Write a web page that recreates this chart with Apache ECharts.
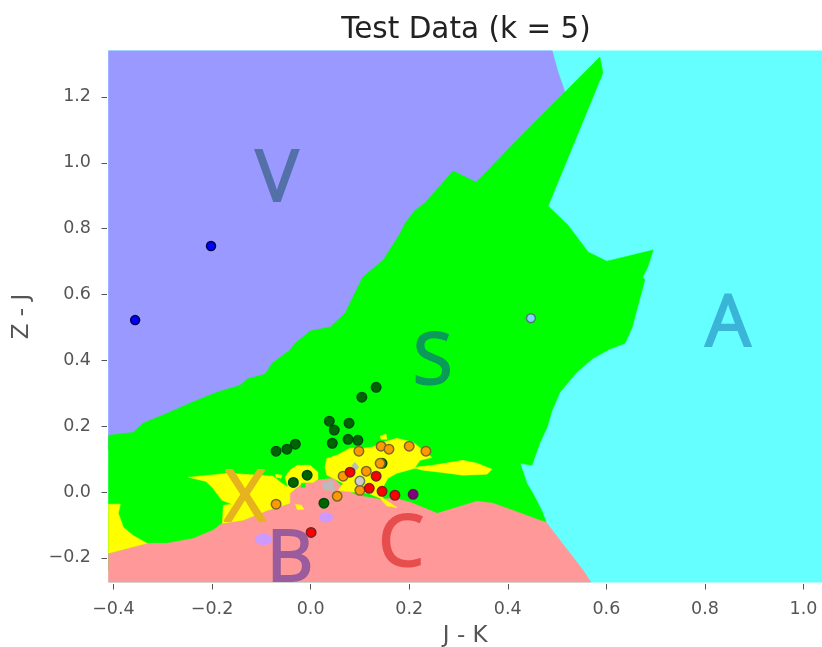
<!DOCTYPE html>
<html><head><meta charset="utf-8">
<style>html,body{margin:0;padding:0;background:#fff}#c{width:822px;height:647px;filter:blur(0.6px)}</style>
<script src="https://cdn.jsdelivr.net/npm/echarts@6/dist/echarts.min.js"></script>
</head><body><div id="c"></div>
<script>
const titleText = 'Test Data (k = 5)';
const xName = 'J - K', yName = 'Z - J';
const xTicks = [-0.4,-0.2,0,0.2,0.4,0.6,0.8,1.0];
const yTicks = [-0.2,0,0.2,0.4,0.6,0.8,1.0,1.2];
const xRange = [-0.41,1.0375], yRange = [-0.275,1.341];

const regionV = [[-0.41,1.341],[0.490,1.341],[0.502,1.276],[0.518,1.206],[0.384,0.583],[-0.41,0.127]];
const regionS = [[0.587,1.321],[0.593,1.273],[0.482,0.869],[0.522,0.811],[0.563,0.729],[0.601,0.701],[0.695,0.735],[0.684,0.683],[0.674,0.653],[0.678,0.644],[0.652,0.498],[0.638,0.452],[0.607,0.434],[0.573,0.406],[0.540,0.364],[0.506,0.303],[0.490,0.248],[0.480,0.197],[0.465,0.148],[0.449,0.081],[0.425,0.087],[0.439,0.026],[0.451,-0.004],[0.469,-0.056],[0.478,-0.092],[0.384,-0.208],[-0.41,-0.238],[-0.41,0.172],[-0.360,0.181],[-0.340,0.209],[-0.291,0.239],[-0.244,0.270],[-0.190,0.303],[-0.163,0.315],[-0.143,0.324],[-0.129,0.343],[-0.092,0.358],[-0.078,0.391],[-0.042,0.431],[-0.031,0.452],[-0.001,0.489],[0.040,0.501],[0.070,0.543],[0.086,0.592],[0.106,0.653],[0.147,0.704],[0.182,0.786],[0.192,0.817],[0.212,0.856],[0.232,0.878],[0.289,0.975],[0.336,0.941],[0.405,1.048],[0.465,1.139],[0.520,1.221]];
const regionS2 = [[-0.019,0.026],[-0.011,0.026],[-0.011,0.014],[-0.019,0.014]];
const regionC = [[-0.41,-0.186],[-0.332,-0.156],[-0.291,-0.156],[-0.238,-0.141],[-0.198,-0.116],[-0.179,-0.095],[-0.137,-0.086],[-0.088,-0.056],[-0.042,-0.034],[-0.042,-0.004],[-0.027,0.014],[-0.015,0.029],[0.005,0.029],[0.015,0.036],[0.046,0.042],[0.070,0.008],[0.094,-0.010],[0.141,-0.022],[0.171,-0.019],[0.202,-0.031],[0.257,-0.065],[0.338,-0.028],[0.370,-0.034],[0.411,-0.056],[0.465,-0.086],[0.478,-0.092],[0.506,-0.147],[0.553,-0.238],[0.569,-0.275],[-0.41,-0.275]];
const regionX1 = [[-0.41,-0.037],[-0.386,-0.037],[-0.390,-0.065],[-0.380,-0.107],[-0.360,-0.132],[-0.332,-0.156],[-0.41,-0.186]];
const regionX2 = [[-0.248,0.045],[-0.204,0.051],[-0.169,0.057],[-0.076,0.048],[-0.058,0.026],[-0.042,0.011],[-0.042,-0.034],[-0.088,-0.056],[-0.137,-0.086],[-0.179,-0.095],[-0.177,-0.040],[-0.159,-0.037],[-0.180,-0.025],[-0.198,0.011],[-0.212,0.032]];
const regionX3 = [[-0.052,0.045],[-0.042,0.066],[-0.027,0.081],[-0.001,0.081],[0.015,0.060],[0.015,0.039],[0.005,0.029],[-0.015,0.029],[-0.042,-0.004]];
const regionX4 = [[-0.072,0.054],[-0.058,0.051],[-0.060,0.042],[-0.070,0.045]];
const regionX5 = [[-0.031,-0.037],[-0.019,-0.040],[-0.013,-0.053],[-0.027,-0.053]];
const regionX6 = [[0.033,0.102],[0.054,0.112],[0.080,0.133],[0.106,0.133],[0.125,0.136],[0.147,0.151],[0.175,0.163],[0.208,0.151],[0.228,0.127],[0.246,0.105],[0.222,0.096],[0.212,0.075],[0.248,0.081],[0.309,0.096],[0.338,0.087],[0.368,0.069],[0.358,0.054],[0.309,0.051],[0.263,0.060],[0.228,0.066],[0.212,0.072],[0.175,0.057],[0.157,0.042],[0.141,-0.001],[0.147,-0.019],[0.175,-0.047],[0.155,-0.043],[0.141,-0.019],[0.117,-0.004],[0.090,-0.001],[0.056,0.005],[0.066,0.026],[0.046,0.042],[0.033,0.051],[0.029,0.075]];
const regionX7 = [[0.141,0.169],[0.153,0.176],[0.155,0.160],[0.143,0.160]];
const regionG1 = [[0.023,0.026],[0.044,0.036],[0.050,0.005],[0.029,0.005]];
const regionG2 = [[0.084,0.081],[0.090,0.090],[0.098,0.075],[0.090,0.063]];
const regionB1 = [[-0.114,-0.144],[-0.108,-0.132],[-0.096,-0.126],[-0.082,-0.132],[-0.077,-0.144],[-0.082,-0.156],[-0.096,-0.162],[-0.108,-0.156]];
const regionB2 = [[0.017,-0.077],[0.021,-0.066],[0.031,-0.062],[0.042,-0.066],[0.046,-0.077],[0.042,-0.088],[0.031,-0.092],[0.021,-0.088]];

const ptsBlue = [[-0.356,0.522],[-0.202,0.747]];
const ptsLight = [[0.447,0.528]];
const ptsGreen = [[0.133,0.318],[0.104,0.288],[0.038,0.215],[0.048,0.188],[0.078,0.209],[0.044,0.148],[0.076,0.160],[0.096,0.157],[-0.070,0.124],[-0.048,0.130],[-0.031,0.145],[-0.007,0.051],[-0.035,0.029],[0.027,-0.034],[0.145,0.087]];
const ptsOrange = [[0.098,0.124],[0.143,0.139],[0.159,0.130],[0.200,0.139],[0.234,0.124],[0.141,0.087],[0.113,0.063],[0.066,0.048],[0.100,0.005],[0.054,-0.013],[-0.070,-0.037]];
const ptsRed = [[0.080,0.060],[0.133,0.048],[0.119,0.011],[0.145,0.002],[0.171,-0.010],[0.001,-0.123]];
const ptsPurple = [[0.208,-0.007]];
const ptsGray = [[0.100,0.033]];

const letterNames = ['V','S','A','X','B','C'];
const letterPos = [[-0.068,0.947],[0.248,0.391],[0.847,0.505],[-0.133,-0.025],[-0.042,-0.207],[0.184,-0.163]];
const letterColors = ['#5470a8','#0a9a5a','#3ab5d8','#e6b31e','#9a5c9c','#e84d4d'];

function poly(points,color){
  return {type:'custom',silent:true,animation:false,clip:true,data:points,
    renderItem:function(params,api){
      if(params.dataIndex!==0) return null;
      return {type:'polygon',shape:{points:points.map(p=>api.coord(p))},style:{fill:color,stroke:color,lineWidth:0.5}};
    }};
}
function dots(data,fill,border,size){
  return {type:'scatter',silent:true,animation:false,symbolSize:size||9.5,data:data,
    itemStyle:{color:fill,borderColor:border,borderWidth:1.5,opacity:1}};
}
const letterSeries = {type:'custom',silent:true,animation:false,clip:false,data:letterPos,z:5,
  renderItem:function(params,api){
    const c = api.coord(letterPos[params.dataIndex]);
    const col = letterColors[params.dataIndex];
    return {type:'text',x:c[0],y:c[1],style:{text:letterNames[params.dataIndex],font:'72px "Open Sans"',fill:col,stroke:col,lineWidth:2,textAlign:'center',textVerticalAlign:'middle',shadowColor:'rgba(0,0,0,0.25)',shadowBlur:4,shadowOffsetX:2,shadowOffsetY:2}};
  }};
const tickFmt = v => { const a=Math.abs(v).toFixed(1); return (v<-1e-9?'\u2212':'')+a; };
const axisCommon = {axisLine:{show:false,onZero:false},splitLine:{show:false},nameLocation:'middle',offset:1.5,
  nameTextStyle:{color:'#555555',fontSize:23,fontFamily:'DejaVu Sans'}};

const chart = echarts.init(document.getElementById('c'),null,{renderer:'canvas'});
chart.setOption({
  animation:false,
  backgroundColor:'#fff',
  title:{text:titleText,left:461,top:10,textAlign:'center',textStyle:{color:'#222',fontSize:29.5,fontWeight:'normal',fontFamily:'DejaVu Sans'}},
  grid:{left:108.5,top:50.5,right:0,bottom:64.5,show:true,backgroundColor:'#66FFFF',borderWidth:0,outerBoundsMode:'none'},
  xAxis:Object.assign({},axisCommon,{type:'value',min:xRange[0],max:xRange[1],name:xName,nameGap:41,
    axisTick:{show:true,length:5.5,lineStyle:{color:'#555',width:1},customValues:xTicks},
    axisLabel:{customValues:xTicks,formatter:tickFmt,color:'#555555',fontSize:17.5,fontFamily:'DejaVu Sans',margin:16}}),
  yAxis:Object.assign({},axisCommon,{type:'value',min:yRange[0],max:yRange[1],name:yName,nameGap:73,
    axisTick:{show:true,length:5.5,lineStyle:{color:'#555',width:1},customValues:yTicks},
    axisLabel:{customValues:yTicks,formatter:tickFmt,color:'#555555',fontSize:17.5,fontFamily:'DejaVu Sans',margin:16,padding:[3,0,0,0]}}),
  series:[
    poly(regionV,'#9999FF'),poly(regionS,'#00FF00'),poly(regionC,'#FF9999'),
    poly(regionX1,'#FFFF00'),poly(regionX2,'#FFFF00'),poly(regionX3,'#FFFF00'),poly(regionX4,'#FFFF00'),poly(regionX5,'#FFFF00'),poly(regionX6,'#FFFF00'),poly(regionX7,'#FFFF00'),
    poly(regionS2,'#00FF00'),poly(regionG1,'#BBBBBB'),poly(regionG2,'#BBBBBB'),poly(regionB1,'#CC99FF'),poly(regionB2,'#CC99FF'),
    letterSeries,
    dots(ptsBlue,'#0000FF','#000050',9),dots(ptsLight,'#80D4FF','#557777',9),
    dots(ptsGreen,'#006400','#004a10'),dots(ptsOrange,'#FF9900','#80662a'),dots(ptsRed,'#FF0000','#7a2222'),
    dots(ptsPurple,'#800080','#502050'),dots(ptsGray,'#CCCCCC','#777755')
  ]
});
</script></body></html>
